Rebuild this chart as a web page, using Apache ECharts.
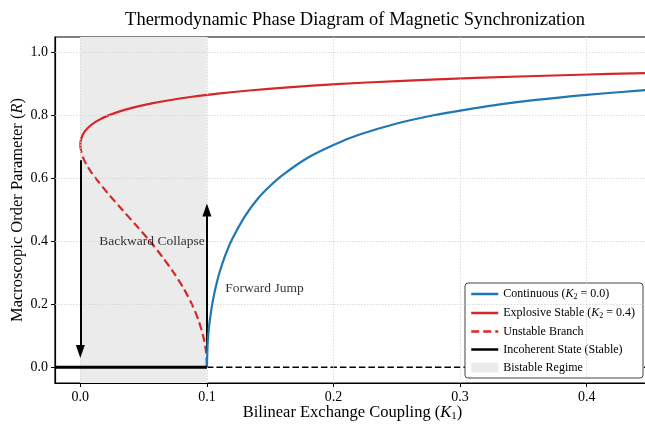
<!DOCTYPE html>
<html>
<head>
<meta charset="utf-8">
<script src="https://cdn.jsdelivr.net/npm/echarts@6/dist/echarts.min.js"></script>
<style>
  html, body { margin: 0; padding: 0; background: #fff; }
  #phase_chart { width: 645px; height: 424px; }
</style>
</head>
<body>
<div id="phase_chart"></div>
<script>
// Data
// ------------------------------

// Continuous branch (K2 = 0.0): [K1, R]
var continuousBranch = [
    [0.1, 0.0], [0.1005, 0.070], [0.101, 0.100], [0.102, 0.140], [0.104, 0.196],
    [0.106, 0.238], [0.108, 0.272], [0.11, 0.302], [0.115, 0.361], [0.12, 0.408],
    [0.13, 0.480], [0.14, 0.535], [0.15, 0.577], [0.16, 0.612], [0.18, 0.667],
    [0.20, 0.707], [0.22, 0.739], [0.25, 0.775], [0.28, 0.802], [0.30, 0.816],
    [0.33, 0.835], [0.36, 0.850], [0.40, 0.866], [0.43, 0.876], [0.45, 0.882]
];

// Explosive stable branch (K2 = 0.4)
var explosiveStable = [
    [0.0, 0.707], [0.0003, 0.72], [0.002, 0.74], [0.0057, 0.76], [0.012, 0.78],
    [0.0218, 0.80], [0.0363, 0.82], [0.0574, 0.84], [0.0882, 0.86], [0.1086, 0.87],
    [0.1335, 0.88], [0.1642, 0.89], [0.2023, 0.90], [0.2505, 0.91], [0.3125, 0.92],
    [0.3942, 0.93], [0.45, 0.9354]
];

// Unstable branch
var unstableBranch = [
    [0.0, 0.707], [0.0001, 0.70], [0.0011, 0.68], [0.0029, 0.66], [0.0055, 0.64],
    [0.0087, 0.62], [0.0123, 0.60], [0.0224, 0.55], [0.0333, 0.50], [0.0444, 0.45],
    [0.0552, 0.40], [0.065, 0.35], [0.0739, 0.30], [0.0817, 0.25], [0.0882, 0.20],
    [0.0933, 0.15], [0.097, 0.10], [0.0993, 0.05], [0.1, 0.0]
];

// Incoherent state
var incoherentStable = [[-0.02, 0], [0.1, 0]];
var incoherentUnstable = [[0.1, 0], [0.45, 0]];

// Bistable window and hysteresis arrows
var bistableRange = [0.0, 0.1];
var collapseArrow = [[0.0, 0.658], [0.0, 0.05]];
var jumpArrow = [[0.1, 0.05], [0.1, 0.5]];

// Annotation positions
var annotations = [
    { text: 'Backward Collapse', coord: [0.0566, 0.40] },
    { text: 'Forward Jump', coord: [0.1455, 0.25] }
];

// Tick labels
var xTicks = [0.0, 0.1, 0.2, 0.3, 0.4];
var yTicks = [0.0, 0.2, 0.4, 0.6, 0.8, 1.0];


// Setup chart
// ------------------------------

var serif = '"Liberation Serif", "DejaVu Serif", serif';
var blue = '#1f77b4';
var red = '#d62728';
var shade = '#ebebeb';

var chartElement = document.getElementById('phase_chart');
var chart = echarts.init(chartElement);

chart.setOption({
    animation: false,
    textStyle: { fontFamily: serif, color: '#000' },

    title: {
        text: 'Thermodynamic Phase Diagram of Magnetic Synchronization',
        left: 350,
        textAlign: 'center',
        top: 6,
        textStyle: { fontFamily: serif, fontSize: 18.5, fontWeight: 'normal', color: '#000' }
    },

    grid: {
        left: 55,
        right: -5,
        top: 37,
        bottom: 41,
        outerBoundsMode: 'none',
        containLabel: false,
        show: true,
        borderColor: '#000',
        borderWidth: 1.2
    },

    legend: {
        orient: 'vertical',
        right: 2,
        top: 283,
        padding: [4, 8, 4, 5],
        itemWidth: 27,
        itemHeight: 10,
        itemGap: 5,
        borderColor: '#444',
        borderWidth: 1,
        borderRadius: 3,
        backgroundColor: '#fff',
        itemStyle: { opacity: 0 },
        lineStyle: { width: 2.5 },
        data: [
            { name: 'cont' },
            { name: 'expl' },
            { name: 'unst' },
            { name: 'inco' },
            { name: 'bist', icon: 'rect', itemStyle: { opacity: 1, color: shade } }
        ],
        formatter: function(name) {
            return {
                cont: 'Continuous ({i|K}{s|2}{t| = 0.0)}',
                expl: 'Explosive Stable ({i|K}{s|2}{t| = 0.4)}',
                unst: 'Unstable Branch',
                inco: 'Incoherent State (Stable)',
                bist: 'Bistable Regime'
            }[name];
        },
        textStyle: {
            fontFamily: serif,
            fontSize: 12,
            lineHeight: 13,
            color: '#000',
            rich: {
                i: { fontStyle: 'italic', fontFamily: serif, fontSize: 12, lineHeight: 13 },
                s: { fontSize: 8, fontFamily: serif, padding: [6, 0, 0, 0], lineHeight: 13 },
                t: { fontSize: 12, fontFamily: serif, lineHeight: 13 }
            }
        }
    },

    xAxis: {
        type: 'value',
        min: -0.02,
        max: 0.45,
        name: 'Bilinear Exchange Coupling ({i|K}{s|1})',
        nameLocation: 'middle',
        nameGap: 20,
        nameMoveOverlap: false,
        nameTextStyle: {
            fontSize: 16.5,
            color: '#000',
            fontFamily: serif,
            rich: {
                i: { fontStyle: 'italic', fontSize: 16.5, fontFamily: serif },
                s: { fontSize: 11, fontFamily: serif, padding: [8, 0, 0, 0] }
            }
        },
        axisLine: { onZero: false, lineStyle: { color: '#000', width: 1.2 } },
        axisTick: { customValues: xTicks, length: 4, lineStyle: { color: '#000' } },
        axisLabel: {
            customValues: xTicks,
            margin: 7,
            fontSize: 14,
            color: '#000',
            fontFamily: serif,
            formatter: function(v) { return v.toFixed(1); }
        },
        splitLine: { show: false }
    },

    yAxis: {
        type: 'value',
        min: -0.05,
        max: 1.05,
        name: 'Macroscopic Order Parameter ({i|R})',
        nameLocation: 'middle',
        nameGap: 29,
        nameMoveOverlap: false,
        nameTextStyle: {
            fontSize: 16.5,
            color: '#000',
            fontFamily: serif,
            rich: { i: { fontStyle: 'italic', fontSize: 16.5, fontFamily: serif } }
        },
        axisLine: { onZero: false, lineStyle: { color: '#000', width: 1.2 } },
        axisTick: { customValues: yTicks, length: 4, lineStyle: { color: '#000' } },
        axisLabel: {
            customValues: yTicks,
            margin: 7,
            fontSize: 14,
            color: '#000',
            fontFamily: serif,
            formatter: function(v) { return v.toFixed(1); }
        },
        splitLine: { show: false }
    },

    series: [
        {
            // grid lines and shaded bistable window
            name: 'bist',
            type: 'line',
            data: [],
            color: shade,
            itemStyle: { color: shade },
            silent: true,
            z: 1,
            markArea: {
                silent: true,
                itemStyle: { color: shade },
                data: [[{ xAxis: bistableRange[0] }, { xAxis: bistableRange[1] }]]
            },
            markLine: {
                silent: true,
                symbol: 'none',
                label: { show: false },
                lineStyle: { color: '#d2d2d2', type: [1.5, 1.5], width: 0.8 },
                data: xTicks.map(function(v) { return { xAxis: v }; })
                    .concat(yTicks.slice(1).map(function(v) { return { yAxis: v }; }))
            }
        },
        {
            name: 'incoU',
            type: 'line',
            data: incoherentUnstable,
            symbol: 'none',
            z: 3,
            lineStyle: { color: '#000', width: 1.6, type: [6.5, 3] }
        },
        {
            name: 'expl',
            type: 'line',
            data: explosiveStable,
            symbol: 'none',
            smooth: 0.3,
            color: red,
            z: 4,
            lineStyle: { color: red, width: 2.2 }
        },
        {
            name: 'unst',
            type: 'line',
            data: unstableBranch,
            symbol: 'none',
            smooth: 0.3,
            color: red,
            z: 4,
            lineStyle: { color: red, width: 2.2, type: [8, 4] }
        },
        {
            name: 'cont',
            type: 'line',
            data: continuousBranch,
            symbol: 'none',
            smooth: 0.3,
            color: blue,
            z: 5,
            lineStyle: { color: blue, width: 2.2 }
        },
        {
            name: 'inco',
            type: 'line',
            data: incoherentStable,
            symbol: 'none',
            color: '#000',
            z: 6,
            lineStyle: { color: '#000', width: 3 }
        },
        {
            // hysteresis arrows and annotations
            name: 'arrows',
            type: 'scatter',
            data: annotations.map(function(a) { return { value: a.coord, label: { formatter: a.text } }; }),
            symbolSize: 0,
            z: 7,
            label: {
                show: true,
                position: 'inside',
                fontSize: 13.5,
                fontFamily: serif,
                color: '#000'
            },
            markLine: {
                silent: true,
                symbol: ['none', 'triangle'],
                symbolSize: [9, 13],
                label: { show: false },
                lineStyle: { color: '#000', width: 2, type: 'solid' },
                data: [
                    [{ coord: collapseArrow[0] }, { coord: collapseArrow[1] }],
                    [{ coord: jumpArrow[0] }, { coord: jumpArrow[1] }]
                ]
            }
        }
    ]
});
</script>
</body>
</html>
